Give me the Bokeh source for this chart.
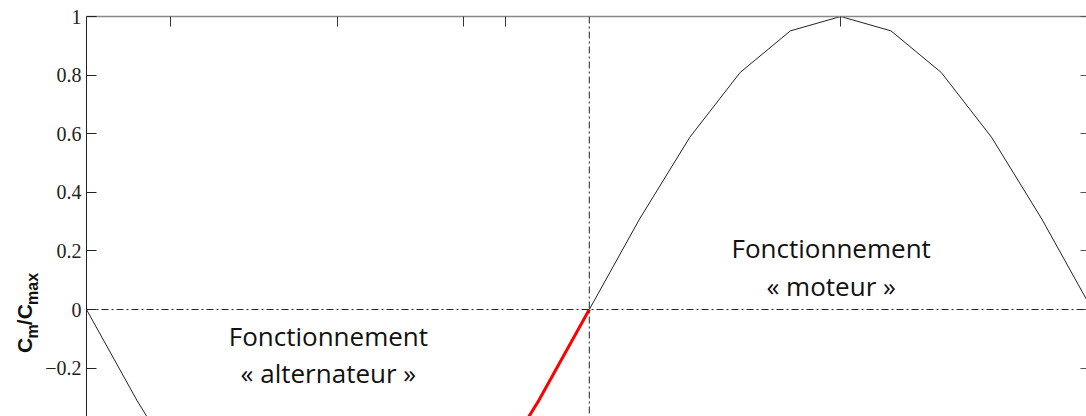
from bokeh.plotting import figure
from bokeh.layouts import row
from bokeh.models import Range1d, LinearAxis, FixedTicker, Span, Label
from bokeh.core.properties import value
from bokeh.embed import file_html
from bokeh.resources import INLINE

# ---- data ----
angle_deg = [-180, -162, -144, -126, -108, -90, -72, -54, -36, -18, 0,
             18, 36, 54, 72, 90, 108, 126, 144, 162, 180]
torque_ratio = [0, -0.309, -0.588, -0.809, -0.951, -1.0, -0.951, -0.809, -0.588, -0.309, 0,
                0.309, 0.588, 0.809, 0.951, 1.0, 0.951, 0.809, 0.588, 0.309, 0]
stable_angle = [-90, -72, -54, -36, -18, 0]
stable_ratio = [-1.0, -0.951, -0.809, -0.588, -0.309, 0]

y_ticks = [-0.2, 0, 0.2, 0.4, 0.6, 0.8, 1]
y_tick_labels = ["\u22120.2", "0", "0.2", "0.4", "0.6", "0.8", "1"]
top_ticks = [-150, -90, -45, -30, 90]

region_x = [86.6, 86.6, -93.4, -93.4]
region_y = [0.209, 0.080, -0.091, -0.217]
region_text = ["Fonctionnement", "\u00ab moteur \u00bb", "Fonctionnement", "\u00ab alternateur \u00bb"]

# ---- y-label strip ----
LW = 40
lab = figure(width=LW, height=416, output_backend="svg", toolbar_location=None,
             x_range=Range1d(0, LW), y_range=Range1d(416, 0),
             x_axis_location=None, y_axis_location=None,
             min_border=0)
lab.grid.visible = False
lab.outline_line_color = None
ylab_parts = [("C", 350, 24, "21px"), ("m", 335, 32, "16px"), ("/C", 321, 24, "21px"), ("max", 300, 32, "16px")]
for txt, py, px, fs in ylab_parts:
    lab.add_layout(Label(x=px, y=py, text=txt, angle=1.5708, text_align="left",
                         text_baseline="alphabetic", text_font="Liberation Sans", text_font_style="bold",
                         text_font_size=fs, text_color="#111111"))

# ---- main plot ----
p = figure(width=1086 - LW, height=416, output_backend="svg", toolbar_location=None,
           x_range=Range1d(-180, 178), y_range=Range1d(-0.365, 1),
           x_axis_location=None, y_axis_location=None,
           min_border_left=86 - LW, min_border_top=16, min_border_bottom=0, min_border_right=0)
p.grid.visible = False
p.outline_line_color = None

ly = LinearAxis(ticker=FixedTicker(ticks=y_ticks),
                major_label_overrides={t: l for t, l in zip(y_ticks, y_tick_labels)})
ly.major_tick_in = 10
ly.major_tick_out = 0
ly.minor_tick_line_color = None
ly.major_label_standoff = 5
ly.major_label_text_font = "Liberation Serif"
ly.major_label_text_font_size = "20px"
ly.major_label_text_color = "#222222"
ly.axis_line_color = "#222222"
ly.major_tick_line_color = "#222222"
p.add_layout(ly, "left")

tx = LinearAxis(ticker=FixedTicker(ticks=top_ticks),
                major_label_overrides={t: "" for t in top_ticks})
tx.major_tick_in = 10
tx.major_tick_out = 0
tx.minor_tick_line_color = None
tx.major_label_text_font_size = "1px"
tx.major_label_standoff = 0
tx.axis_line_color = "#888888"
tx.axis_line_width = 1.5
tx.major_tick_line_color = "#333333"
p.add_layout(tx, "above")

ry = LinearAxis(ticker=FixedTicker(ticks=y_ticks),
                major_label_overrides={t: "" for t in y_ticks})
ry.major_tick_in = 6
ry.major_tick_out = 0
ry.minor_tick_line_color = None
ry.major_label_text_font_size = "1px"
ry.major_label_standoff = 0
ry.axis_line_color = None
ry.major_tick_line_color = "#555555"
p.add_layout(ry, "right")

p.add_layout(Span(location=0, dimension="width", line_color="#222222", line_width=1, line_dash="7 3 2 3"))
p.add_layout(Span(location=0, dimension="height", line_color="#222222", line_width=1, line_dash="7 3 2 3"))

p.line(angle_deg, torque_ratio, line_color="#222222", line_width=1)
p.line(stable_angle, stable_ratio, line_color="#ff0000", line_width=3)

p.text(x=region_x, y=region_y, text=region_text, text_align="center", text_baseline="alphabetic",
       text_font=value("Open Sans"), text_font_size="26px", text_color="#111111")

layout = row(lab, p, spacing=0)
open("out.html", "w").write(file_html(layout, INLINE))
